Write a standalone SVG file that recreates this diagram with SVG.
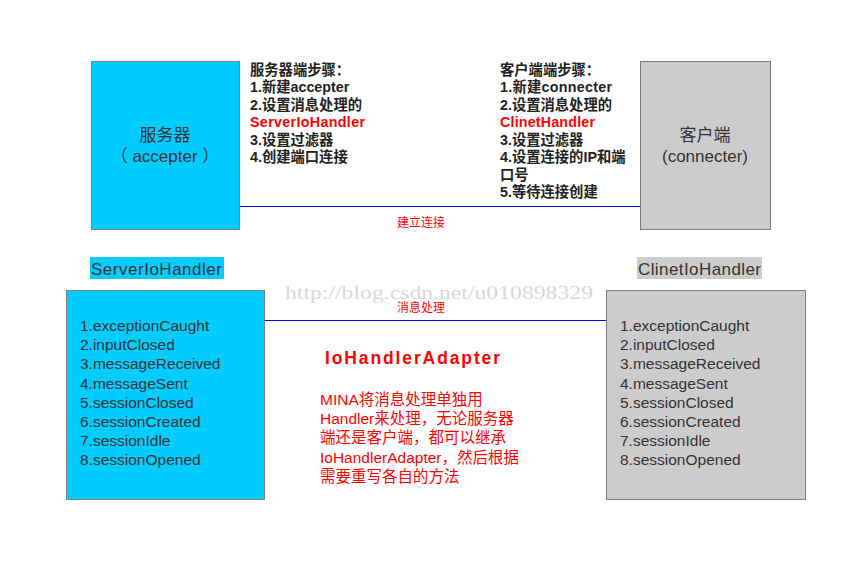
<svg xmlns="http://www.w3.org/2000/svg" width="859" height="565" viewBox="0 0 859 565">
<style>
text{font-family:"Liberation Sans","Noto Sans CJK SC",sans-serif}
.box{stroke:#7f7f7f;stroke-width:1}
.big{font-size:17px;fill:#333;text-anchor:middle}
.lst{font-size:15.5px;fill:#333}
.step{font-size:14.3px;font-weight:bold;fill:#222}
.red{fill:#ff0000}
.note{font-size:15.5px;fill:#ff0000}
.conn{stroke:#0000e0;stroke-width:1}
.cl{font-size:12px;fill:#ff0000;text-anchor:middle}
</style>
<rect width="859" height="565" fill="#fff"/>
<text x="285" y="299" font-size="18" fill="#d8d8d8" textLength="308" lengthAdjust="spacingAndGlyphs" style="font-family:'Liberation Serif',serif">http://blog.csdn.net/u010898329</text>
<g id="connectors">
<line class="conn" x1="239" y1="206.5" x2="640" y2="206.5"/>
<text class="cl" x="421" y="227">建立连接</text>
<line class="conn" x1="260" y1="320.5" x2="610" y2="320.5"/>
<text class="cl" x="421" y="312">消息处理</text>
</g>
<g id="server">
<rect class="box" x="91.5" y="61.5" width="148" height="168" fill="#00ccff"/>
<text class="big" x="165" y="141">服务器</text>
<text class="big" x="165" y="162">（ accepter ）</text>
</g>
<g id="client">
<rect class="box" x="640.5" y="61.5" width="130" height="168" fill="#cccccc"/>
<text class="big" x="705" y="141">客户端</text>
<text class="big" x="705" y="162">(connecter)</text>
</g>
<g id="server-steps">
<text class="step" x="250" y="75">服务器端步骤：</text>
<text class="step" x="250" y="92">1.新建accepter</text>
<text class="step" x="250" y="110">2.设置消息处理的</text>
<text class="step red" x="250" y="127" textLength="115">ServerIoHandler</text>
<text class="step" x="250" y="145">3.设置过滤器</text>
<text class="step" x="250" y="162">4.创建端口连接</text>
</g>
<g id="client-steps">
<text class="step" x="500" y="75">客户端端步骤：</text>
<text class="step" x="500" y="92" textLength="112">1.新建connecter</text>
<text class="step" x="500" y="110">2.设置消息处理的</text>
<text class="step red" x="500" y="127" textLength="95">ClinetHandler</text>
<text class="step" x="500" y="145">3.设置过滤器</text>
<text class="step" x="500" y="162">4.设置连接的IP和端</text>
<text class="step" x="500" y="180">口号</text>
<text class="step" x="500" y="197">5.等待连接创建</text>
</g>
<g id="server-handler-label">
<rect x="90" y="257" width="134" height="22" fill="#00ccff"/>
<text x="91" y="275" font-size="17" fill="#333" textLength="131">ServerIoHandler</text>
</g>
<g id="client-handler-label">
<rect x="637" y="257" width="125" height="22" fill="#cccccc"/>
<text x="638" y="275" font-size="17" fill="#333" textLength="123">ClinetIoHandler</text>
</g>
<g id="server-handler">
<rect class="box" x="66.5" y="290.5" width="198" height="209" fill="#00ccff"/>
<text class="lst" x="80" y="331">1.exceptionCaught</text>
<text class="lst" x="80" y="350">2.inputClosed</text>
<text class="lst" x="80" y="369">3.messageReceived</text>
<text class="lst" x="80" y="389">4.messageSent</text>
<text class="lst" x="80" y="408">5.sessionClosed</text>
<text class="lst" x="80" y="427">6.sessionCreated</text>
<text class="lst" x="80" y="446">7.sessionIdle</text>
<text class="lst" x="80" y="465">8.sessionOpened</text>
</g>
<g id="client-handler">
<rect class="box" x="606.5" y="290.5" width="199" height="209" fill="#cccccc"/>
<text class="lst" x="620" y="331">1.exceptionCaught</text>
<text class="lst" x="620" y="350">2.inputClosed</text>
<text class="lst" x="620" y="369">3.messageReceived</text>
<text class="lst" x="620" y="389">4.messageSent</text>
<text class="lst" x="620" y="408">5.sessionClosed</text>
<text class="lst" x="620" y="427">6.sessionCreated</text>
<text class="lst" x="620" y="446">7.sessionIdle</text>
<text class="lst" x="620" y="465">8.sessionOpened</text>
</g>
<g id="adapter-note">
<text x="325" y="364" font-size="17.5" font-weight="bold" fill="#ff0000" textLength="175">IoHandlerAdapter</text>
<text class="note" x="320" y="405">MINA将消息处理单独用</text>
<text class="note" x="320" y="424">Handler来处理，无论服务器</text>
<text class="note" x="320" y="443">端还是客户端，都可以继承</text>
<text class="note" x="320" y="463">IoHandlerAdapter，然后根据</text>
<text class="note" x="320" y="482">需要重写各自的方法</text>
</g>
</svg>
